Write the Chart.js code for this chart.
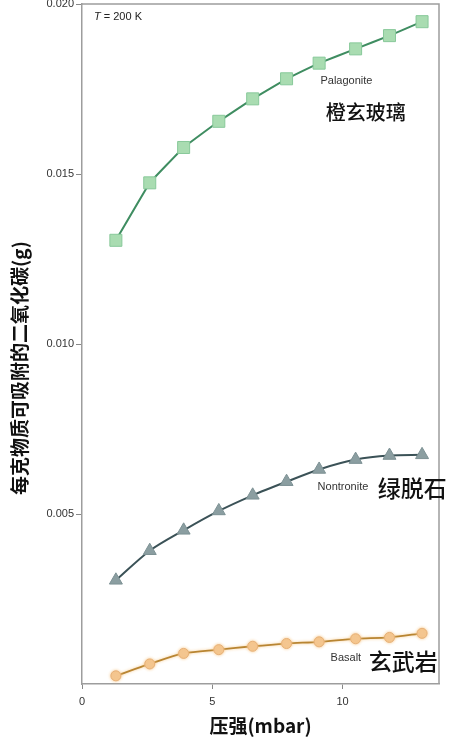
<!DOCTYPE html>
<html><head><meta charset="utf-8">
<script src="https://cdn.jsdelivr.net/npm/chart.js@4.4.1/dist/chart.umd.min.js"></script>
<style>html,body{margin:0;padding:0;background:#fff;}#wrap{width:464px;height:750px;position:relative;}</style>
</head><body><div id="wrap"><canvas id="c" width="464" height="750"></canvas></div>
<script>
const pressure = [1.3, 2.6, 3.9, 5.25, 6.55, 7.85, 9.1, 10.5, 11.8, 13.05];
const palagonite = [0.01305, 0.01474, 0.01578, 0.01655, 0.01721, 0.01780, 0.01826, 0.01868, 0.01907, 0.01948];
const nontronite = [0.00305, 0.00392, 0.00452, 0.00509, 0.00555, 0.00595, 0.00631, 0.00660, 0.00672, 0.00674];
const basalt = [0.00024, 0.00059, 0.00090, 0.00101, 0.00111, 0.00119, 0.00124, 0.00133, 0.00137, 0.00149];
const seriesNames = ['Palagonite', 'Nontronite', 'Basalt'];
const seriesNamesZh = ['橙玄玻璃', '绿脱石', '玄武岩'];
const xTicks = [0, 5, 10];
const yTicks = [0.005, 0.010, 0.015, 0.020];
const xTitle = '压强(mbar)';
const yTitle = '每克物质可吸附的二氧化碳(g)';
const noteVar = 'T';
const noteRest = ' = 200 K';

const LAT = '"Liberation Sans", Arial, sans-serif';
const CJK = '"Noto Sans CJK SC", "Noto Sans", sans-serif';

function pts(ys) { return pressure.map((x, i) => ({ x: x, y: ys[i] })); }

// label placements in data coordinates (x, y) + font
const labelPlaces = [
  { text: seriesNames[0], x: 9.15, y: 0.01774, font: '11px ' + LAT, color: '#333' },
  { text: seriesNamesZh[0], x: 9.35, y: 0.01680, font: '500 20px ' + CJK, color: '#111' },
  { text: seriesNames[1], x: 9.04, y: 0.00580, font: '11px ' + LAT, color: '#333' },
  { text: seriesNamesZh[1], x: 11.35, y: 0.00577, font: '500 23px ' + CJK, color: '#111' },
  { text: seriesNames[2], x: 9.54, y: 0.00078, font: '11px ' + LAT, color: '#333' },
  { text: seriesNamesZh[2], x: 11.0, y: 0.00066, font: '500 23px ' + CJK, color: '#111' }
];

const decor = {
  id: 'decor',
  beforeDatasetDraw(chart, args) {
    if (args.index === 2) {
      const c = chart.ctx; c.save();
      c.shadowColor = 'rgba(247,196,128,0.9)'; c.shadowBlur = 3;
    }
  },
  afterDatasetDraw(chart, args) {
    if (args.index === 2) chart.ctx.restore();
  },
  afterDraw(chart) {
    const c = chart.ctx, a = chart.chartArea;
    const xs = chart.scales.x, ys = chart.scales.y;
    c.save();
    c.strokeStyle = '#9d9d9d'; c.lineWidth = 1.5;
    c.beginPath();
    c.moveTo(a.left, a.top); c.lineTo(a.right, a.top); c.lineTo(a.right, a.bottom);
    c.stroke();
    c.textBaseline = 'middle'; c.textAlign = 'left';
    // T = 200 K
    const tx = xs.getPixelForValue(0.46), ty = ys.getPixelForValue(0.01963);
    c.fillStyle = '#222';
    c.font = 'italic 11px ' + LAT; c.fillText(noteVar, tx, ty);
    const w = c.measureText(noteVar).width;
    c.font = '11px ' + LAT; c.fillText(noteRest, tx + w, ty);
    labelPlaces.forEach(l => {
      c.font = l.font; c.fillStyle = l.color;
      c.fillText(l.text, xs.getPixelForValue(l.x), ys.getPixelForValue(l.y));
    });
    // y title
    c.translate(20, 368); c.rotate(-Math.PI / 2);
    c.textAlign = 'center'; c.fillStyle = '#111';
    c.font = 'bold 19px ' + CJK;
    c.fillText(yTitle, 0, 0);
    c.restore();
  }
};

new Chart(document.getElementById('c'), {
  type: 'scatter',
  data: {
    datasets: [
      { label: seriesNames[0], data: pts(palagonite), showLine: true, tension: 0.05,
        borderColor: '#3f8d61', borderWidth: 2, pointStyle: 'rect', pointRadius: 8.5,
        pointBackgroundColor: '#a9dcb1', pointBorderColor: '#88c99a', pointBorderWidth: 1 },
      { label: seriesNames[1], data: pts(nontronite), showLine: true, tension: 0.3,
        borderColor: '#3b5257', borderWidth: 2, pointStyle: 'triangle', pointRadius: 7.5,
        pointBackgroundColor: '#8b9ea1', pointBorderColor: '#7d9194', pointBorderWidth: 1 },
      { label: seriesNames[2], data: pts(basalt), showLine: true, tension: 0.3,
        borderColor: '#b88532', borderWidth: 1.8, pointStyle: 'circle', pointRadius: 5,
        pointBackgroundColor: '#f4c690', pointBorderColor: '#e6b079', pointBorderWidth: 1 }
    ]
  },
  options: {
    responsive: false, animation: false, devicePixelRatio: 1,
    layout: { autoPadding: false, padding: { left: 0, right: 25, top: 4, bottom: 0 } },
    plugins: { legend: { display: false }, tooltip: { enabled: false } },
    scales: {
      x: {
        type: 'linear', min: 0, max: 13.7,
        afterBuildTicks: s => { s.ticks = xTicks.map(v => ({ value: v })); },
        afterFit: s => { s.height = 66; s.paddingLeft = 0; s.paddingRight = 0; },
        grid: { drawOnChartArea: false, drawTicks: true, tickLength: 5, color: '#888' },
        border: { display: true, color: '#9d9d9d', width: 1.5 },
        ticks: { padding: 6, color: '#333', font: { family: LAT, size: 11 }, maxRotation: 0,
          callback: v => String(v) },
        title: { display: true, text: xTitle, color: '#111',
          font: { family: CJK, size: 19, weight: 'bold' }, padding: { top: 0, bottom: 13 } }
      },
      y: {
        type: 'linear', min: 0, max: 0.02,
        afterBuildTicks: s => { s.ticks = yTicks.map(v => ({ value: v })); },
        afterFit: s => { s.width = 82; s.paddingTop = 0; s.paddingBottom = 0; },
        grid: { drawOnChartArea: false, drawTicks: true, tickLength: 6, color: '#888' },
        border: { display: true, color: '#9d9d9d', width: 1.5 },
        ticks: { padding: 2, color: '#333', font: { family: LAT, size: 11, lineHeight: 0.4 },
          callback: v => v.toFixed(3) }
      }
    }
  },
  plugins: [decor]
});
</script>
</body></html>
